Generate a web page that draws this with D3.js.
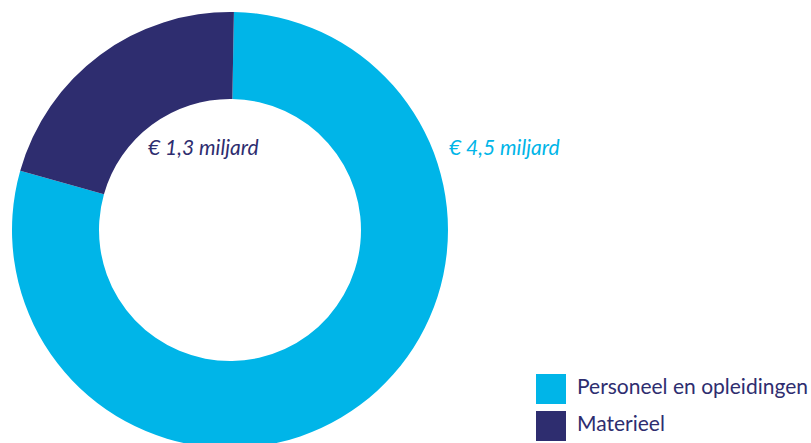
<!DOCTYPE html>
<html>
<head>
<meta charset="utf-8">
<script src="https://cdn.jsdelivr.net/npm/d3@7"></script>
<style>
  body { margin: 0; background: #fff; }
  svg { display: block; font-family: Lato, "Noto Sans", sans-serif; }
</style>
</head>
<body>
<div id="chart"></div>
<script>
// categories and values
const categories = ['Personeel en opleidingen', 'Materieel']
const amounts = [4.5, 1.3]           // miljard euro, as labelled
// share of the ring each slice takes in the picture (drawing is not exactly proportional)
const ringShares = [0.791, 0.209]
const colors = ['#00b5e8', '#2e2d6f']
const labelColors = ['#00b5e8', '#2e2d6f']

const width = 811, height = 443
const cx = 230, cy = 230
const outer = 218, inner = 131

const svg = d3.select('#chart').append('svg')
  .attr('width', width)
  .attr('height', height)

const pie = d3.pie()
  .sort(null)
  .value(d => d.share)
  .startAngle(0.018)
  .endAngle(0.018 + 2 * Math.PI)

const arc = d3.arc().innerRadius(inner).outerRadius(outer)

const data = categories.map((c, i) => ({ name: c, amount: amounts[i], share: ringShares[i], color: colors[i] }))

const g = svg.append('g').attr('transform', `translate(${cx},${cy})`)
g.selectAll('path.slice')
  .data(pie(data))
  .join('path')
  .attr('class', 'slice')
  .attr('d', arc)
  .attr('fill', d => d.data.color)

/* value labels */
const fmt = v => '€ ' + d3.format('.1f')(v).replace('.', ',') + ' miljard'
const labelPos = [[449, 155], [148, 155]]
svg.selectAll('text.value')
  .data(data)
  .join('text')
  .attr('class', 'value')
  .attr('x', (d, i) => labelPos[i][0])
  .attr('y', (d, i) => labelPos[i][1])
  .attr('font-style', 'italic')
  .attr('font-size', 21)
  .attr('fill', (d, i) => labelColors[i])
  .text(d => fmt(d.amount))

/* legend */
const legend = svg.append('g').attr('transform', 'translate(536,374)')
const item = legend.selectAll('g')
  .data(data)
  .join('g')
  .attr('transform', (d, i) => `translate(0,${i * 37})`)
item.append('rect')
  .attr('width', 30)
  .attr('height', 30)
  .attr('fill', d => d.color)
item.append('text')
  .attr('x', 41)
  .attr('y', 20)
  .attr('font-size', 21)
  .attr('fill', '#2e2d6f')
  .text(d => d.name)
</script>
</body>
</html>
